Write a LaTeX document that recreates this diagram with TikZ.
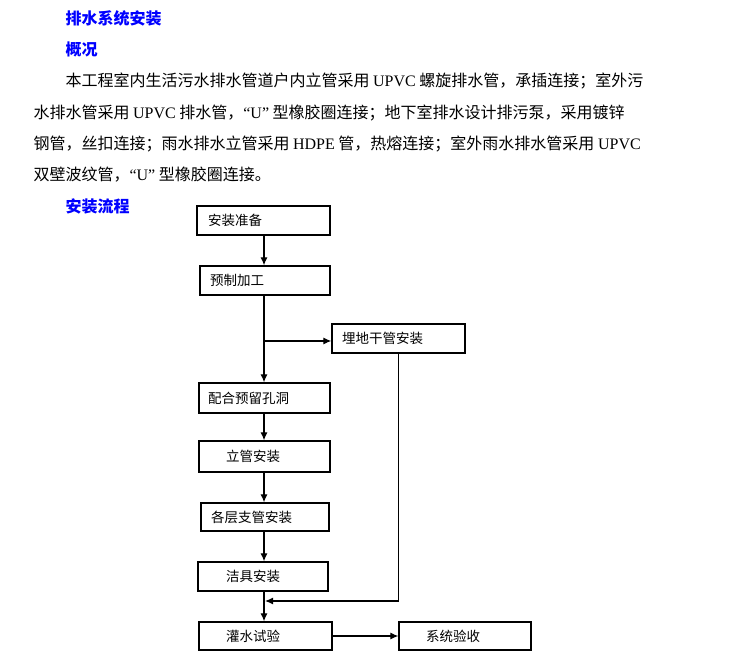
\documentclass[tikz,border=0pt]{standalone}
\usepackage{fontspec}
\setmainfont{Noto Sans CJK SC}
\newfontfamily\lat{Liberation Serif}
\usetikzlibrary{arrows.meta}

\begin{document}
\begin{tikzpicture}
[x=1pt,y=-1pt,
 box/.style={draw,line width=1.3pt,minimum height=29pt,inner sep=0pt,align=left,font=\fontsize{13.5}{15}\selectfont},
 head/.style={anchor=west,text=blue,font=\fontsize{16}{18}\selectfont\bfseries},
 para/.style={anchor=west,font=\fontsize{16}{18}\selectfont},
 arr/.style={line width=1.2pt,-{Latex[length=8pt,width=7pt]}}]
\useasboundingbox (0,0) rectangle (729,660);

\node[head] (h1) at (62,18) {排水系统安装};
\node[head] (h2) at (62,49) {概况};
\node[para] (p1) at (62,81) {本工程室内生活污水排水管道户内立管采用 {\lat UPVC} 螺旋排水管，承插连接；室外污};
\node[para] (p2) at (30,113) {水排水管采用 {\lat UPVC} 排水管，{\lat “U”} 型橡胶圈连接；地下室排水设计排污泵，采用镀锌};
\node[para] (p3) at (30,144) {钢管，丝扣连接；雨水排水立管采用 {\lat HDPE} 管，热熔连接；室外雨水排水管采用 {\lat UPVC}};
\node[para] (p4) at (30,175) {双壁波纹管，{\lat “U”} 型橡胶圈连接。};
\node[head] (h3) at (62,206) {安装流程};

\node[box,text width=133pt] (b1) at (263.5,220.5) {\hspace*{11pt}安装准备};
\node[box,text width=130pt] (b2) at (265,280.5) {\hspace*{10pt}预制加工};
\node[box,text width=133pt] (b3) at (398.5,338.5) {\hspace*{10pt}埋地干管安装};
\node[box,text width=131pt,minimum height=30pt] (b4) at (264.5,398) {\hspace*{9pt}配合预留孔洞};
\node[box,text width=131pt,minimum height=31pt] (b5) at (264.5,456.5) {\hspace*{27pt}立管安装};
\node[box,text width=128pt,minimum height=28pt] (b6) at (265,517) {\hspace*{10pt}各层支管安装};
\node[box,text width=130pt] (b7) at (263,576.5) {\hspace*{28pt}洁具安装};
\node[box,text width=133pt,minimum height=28pt] (b8) at (265.5,636) {\hspace*{27pt}灌水试验};
\node[box,text width=132pt,minimum height=28pt] (b9) at (465,636) {\hspace*{27pt}系统验收};

\coordinate (col) at (264,0);
\coordinate (br) at (264,341);
\coordinate (ret) at (265,601);

\foreach \from/\to in {b1/b2,b2/b4,b4/b5,b5/b6,b6/b7,b7/b8}
\draw[arr] (\from.south -| col) -- (\to.north -| col);
\draw[arr] (br) -- (br -| b3.west);
\draw[arr] (b3.south) |- (ret);
\draw[arr] (b8) -- (b9);
\end{tikzpicture}
\end{document}
